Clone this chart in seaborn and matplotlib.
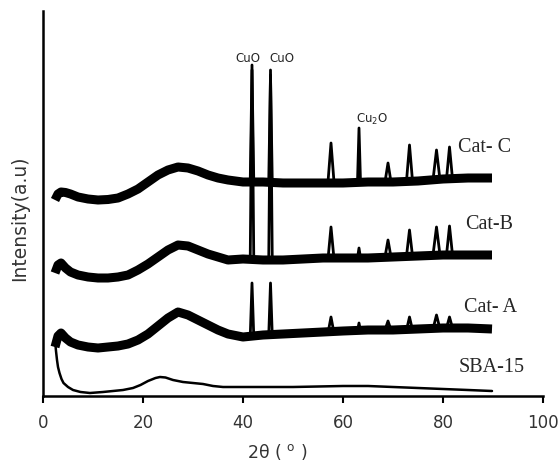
import numpy as np
import pandas as pd
import matplotlib
matplotlib.use("Agg")
import matplotlib.pyplot as plt
import seaborn as sns

# ---------------- data (intensity in arbitrary units) ----------------
tt_cat = [2.4, 3, 3.6, 4.5, 5.5, 7, 9, 11, 13, 15, 17, 19, 21, 23, 25, 27, 29, 31,
          33, 35, 37, 40, 44, 48, 52, 56, 60, 65, 70, 75, 80, 85, 89.8]
cat_c = [196, 202, 204, 203.5, 202, 199, 197, 196, 196.5, 198, 202, 207, 214, 221,
         226, 229, 228, 225, 221, 218, 216, 214, 214, 213, 213, 213, 213, 214, 214,
         215, 217, 218, 218]
cat_b = [123, 131, 133, 128, 124, 121, 119, 118, 118, 119, 121, 126, 132, 139,
         146, 151, 150, 146, 142, 139, 136, 137, 136, 136, 137, 138, 138, 138, 139,
         140, 141, 141, 141]
cat_a = [49, 60, 63, 58, 54, 51, 49, 48, 49, 50, 52, 56, 62, 70,
         78, 84, 81, 76, 71, 66, 62, 59, 61, 62, 63, 64, 65, 66, 66,
         67, 68, 68, 67]

tt_sba = [2.4, 2.6, 2.8, 3.0, 3.3, 3.7, 4.1, 5, 6, 7.5, 9.4, 12, 14, 16, 18, 19.5,
          21, 22.5, 23.4, 24.5, 26, 28, 30, 32, 34, 36, 40, 50, 60, 65, 70, 75,
          80, 85, 89.8]
sba_15 = [56, 45, 36, 29, 23, 17, 13, 9, 6, 4, 3, 4, 5, 6, 8, 11,
          15, 18, 19, 18.5, 16, 14, 13, 12, 10, 9, 9, 9, 10, 10, 9, 8,
          7, 6, 5]

# reflections: position, foot level, top level, half width
peak_pos = [41.8, 45.5, 57.6, 63.2, 69.0, 73.3, 78.7, 81.3]
peak_halfwidth = [0.35, 0.35, 0.6, 0.3, 0.6, 0.6, 0.7, 0.6]
c_foot = [216, 215, 214, 214, 214, 215, 216, 217]
c_top = [326, 321, 253, 268, 233, 251, 246, 249]
b_foot = [140, 138, 137, 138, 139, 140, 141, 141]
b_top = [331, 326, 169, 148, 156, 166, 169, 170]
a_foot = [60, 61, 63, 65, 66, 66, 67, 68]
a_top = [113, 113, 79, 73, 75, 79, 81, 79]

series_names = ["Cat- C", "Cat-B", "Cat- A", "SBA-15"]
label_x = [88.4, 89.2, 89.6, 89.7]
label_y = [249, 171, 89, 29]

phase_labels = ["CuO", "CuO", "Cu$_2$O"]
phase_x = [40.9, 47.8, 65.7]
phase_y = [338, 338, 277]

# ---------------- figure ----------------
sns.set_style("white")
plt.rcParams["font.family"] = ["DejaVu Sans"]

fig = plt.figure(figsize=(5.59, 4.62), dpi=100)
ax = fig.add_axes([43 / 559, 1 - 396 / 462, 500 / 559, 385 / 462])

band = pd.DataFrame({"tt": tt_cat, "C": cat_c, "B": cat_b, "A": cat_a})
for col in ["C", "B", "A"]:
    sns.lineplot(data=band, x="tt", y=col, ax=ax, color="black", lw=6.5,
                 solid_joinstyle="round", solid_capstyle="butt")

sba = pd.DataFrame({"tt": tt_sba, "I": sba_15})
sns.lineplot(data=sba, x="tt", y="I", ax=ax, color="black", lw=1.8,
             solid_joinstyle="round")

rows = []
for sname, foots, tops in [("C", c_foot, c_top), ("B", b_foot, b_top), ("A", a_foot, a_top)]:
    for k, (p, hw, f, t) in enumerate(zip(peak_pos, peak_halfwidth, foots, tops)):
        pid = f"{sname}{k}"
        rows += [(pid, p - hw, f), (pid, p, t), (pid, p + hw, f)]
peaks = pd.DataFrame(rows, columns=["pid", "tt", "I"])
sns.lineplot(data=peaks, x="tt", y="I", units="pid", estimator=None, sort=False,
             ax=ax, color="black", lw=2.0)

for name, x, y in zip(series_names, label_x, label_y):
    ax.text(x, y, name, ha="center", va="center", fontsize=14.5,
            family="Liberation Serif")
for name, x, y in zip(phase_labels, phase_x, phase_y):
    ax.text(x, y, name, ha="center", va="center", fontsize=8.5)

ax.set_xlim(0, 100)
ax.set_ylim(0, 385)
ax.set_xticks([0, 20, 40, 60, 80, 100])
ax.set_yticks([])
ax.set_xlabel("")
ax.set_ylabel("")
for s in ["top", "right"]:
    ax.spines[s].set_visible(False)
for s in ["left", "bottom"]:
    ax.spines[s].set_linewidth(1.8)
    ax.spines[s].set_color("black")
ax.tick_params(axis="x", direction="out", length=5, width=1.5, pad=8,
               labelsize=12, bottom=True, colors="black")
for lab in ax.get_xticklabels():
    lab.set_color("#333333")

fig.text(20 / 559, 1 - 218 / 462, "Intensity(a.u)", rotation=90, ha="center",
         va="center", fontsize=13.5, color="#333333")
fig.text(277.5 / 559, 1 - 452 / 462, "2θ ( $^{\\mathrm{o}}$ )", ha="center",
         va="center", fontsize=12.5, color="#333333")

fig.savefig("out.png", dpi=100, facecolor="white")
